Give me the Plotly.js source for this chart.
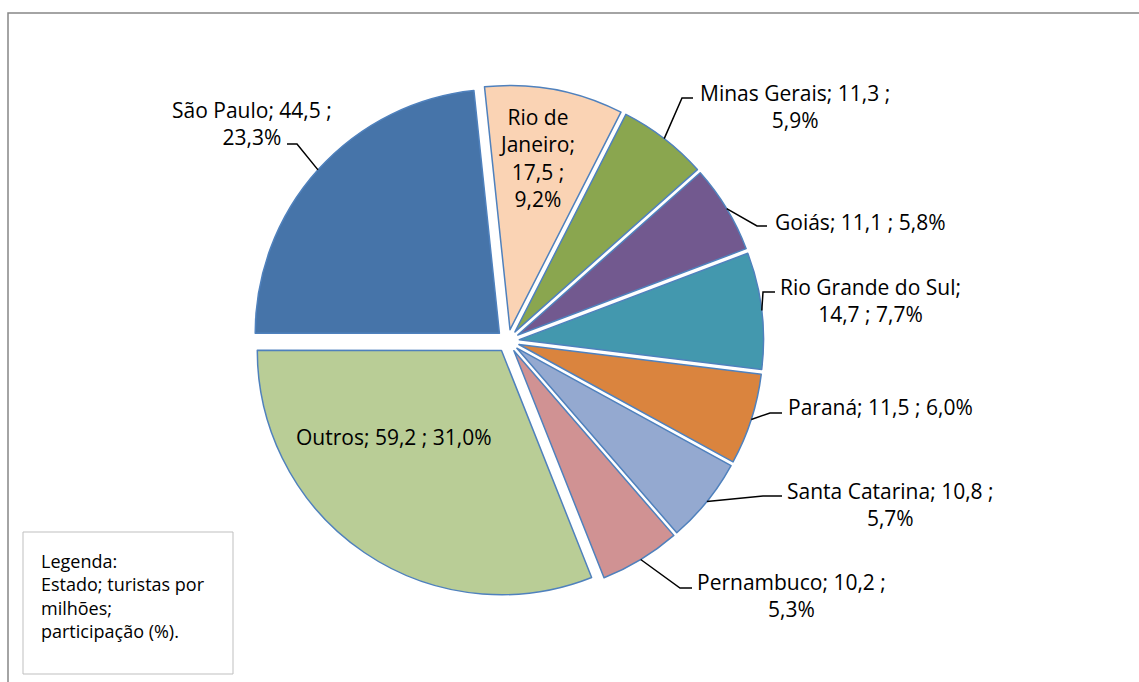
<!DOCTYPE html>
<html>
<head>
<meta charset="utf-8">
<script src="https://cdn.plot.ly/plotly-3.0.1.min.js"></script>
<style>html,body{margin:0;padding:0;background:#fff;overflow:hidden;}#chart{width:1139px;height:682px;}</style>
</head>
<body>
<div id="chart"></div>
<script>
// ---- data ----
const states = ['Rio de Janeiro','Minas Gerais','Goiás','Rio Grande do Sul','Paraná','Santa Catarina','Pernambuco','Outros','São Paulo'];
const tourists = [17.5, 11.3, 11.1, 14.7, 11.5, 10.8, 10.2, 59.2, 44.5];
const legendLines = ['Legenda:', 'Estado; turistas por', 'milhões;', 'participação (%).'];

// ---- styles / layout ----
const colors = ['#FAD3B4','#8AA64F','#72598F','#4398AE','#DA843E','#94A9D0','#D09293','#B9CD96','#4674A9'];
const W = 1139, H = 682;
const FONT = 'Open Sans, Liberation Sans, sans-serif';
const pullFrac = 0.047;
const rotation = -6;
const dom = {x: [0.1839, 0.7080], y: [0.1251, 0.8749]};
// label block centre (px), wrap mode, leader elbow & end (px)
const labelPos = [[537,158],[795,107],[860,222],[870,300],[880,407],[890,504],[791,595],[394,437],[252,123]];
const wrapMode = ['rio','pct','none','lbl','none','pct','pct','none','pct'];
const leader = [null,[[682,98],[693,98]],[[757,226],[767,226]],[[763,292],[775,292]],[[770,413],[782,413]],[[763,496],[782,496]],[[680,588],[692,588]],null,[[297,144],[287,144]]];

const total = tourists.reduce((a,b)=>a+b,0);
const fmt = v => v.toFixed(1).replace('.', ',');
function labelText(i){
  const name = states[i], val = fmt(tourists[i]), pct = fmt(tourists[i]/total*100) + '%';
  switch(wrapMode[i]){
    case 'rio': return name.replace(' Janeiro','<br>Janeiro') + ';<br>' + val + ' ;<br>' + pct;
    case 'pct': return name + '; ' + val + ' ;<br>' + pct;
    case 'lbl': return name + ';<br>' + val + ' ; ' + pct;
    default: return name + '; ' + val + ' ; ' + pct;
  }
}
const px = x => x / W, py = y => 1 - y / H;

// pie geometry as Plotly computes it
const boxH = (dom.y[1]-dom.y[0]) * H, boxW = (dom.x[1]-dom.x[0]) * W;
const r = Math.min(boxW, boxH) / (2 + 2*pullFrac);
const cx = (dom.x[0]+dom.x[1])/2 * W, cy = (1 - (dom.y[0]+dom.y[1])/2) * H;

const annotations = [], shapes = [];
let cum = 0;
for (let i = 0; i < states.length; i++) {
  const mid = (rotation + (cum + tourists[i]/2) / total * 360) * Math.PI/180;
  cum += tourists[i];
  const R = r * (1 + pullFrac);
  const ax = cx + R*Math.sin(mid), ay = cy - R*Math.cos(mid);
  annotations.push({
    xref:'paper', yref:'paper', x: px(labelPos[i][0]), y: py(labelPos[i][1]),
    xanchor:'center', yanchor:'middle', showarrow:false, align:'center',
    text: labelText(i), font:{family:FONT, size:21, color:'#000'}
  });
  if (leader[i]) {
    const e = leader[i][0], f = leader[i][1];
    shapes.push({type:'path', xref:'paper', yref:'paper',
      path:`M ${px(ax)},${py(ay)} L ${px(e[0])},${py(e[1])} L ${px(f[0])},${py(f[1])}`,
      line:{color:'#000', width:1.5}});
  }
}
// legend box
shapes.push({type:'rect', xref:'paper', yref:'paper', x0:px(23), x1:px(233), y0:py(674), y1:py(532), line:{color:'#BFBFBF', width:1}, fillcolor:'rgba(0,0,0,0)'});
annotations.push({xref:'paper', yref:'paper', x:px(39), y:py(547), xanchor:'left', yanchor:'top', showarrow:false, align:'left',
  text: legendLines.join('<br>'), font:{family:FONT, size:18, color:'#000'}});
// chart frame (left and top edges only; the rest lies outside the picture)
shapes.push({type:'path', xref:'paper', yref:'paper', path:`M ${px(8)},-0.05 L ${px(8)},${py(13)} L 1.05,${py(13)}`, line:{color:'#868686', width:1.5}, layer:'below'});

const trace = {
  type:'pie', labels: states, values: tourists, sort:false, direction:'clockwise', rotation: rotation,
  pull: states.map(()=>pullFrac), domain: dom,
  marker:{colors: colors, line:{color:'#4F81BD', width:1.5}},
  textinfo:'none', hoverinfo:'skip', showlegend:false
};
const layout = {
  width:W, height:H, margin:{l:0,r:0,t:0,b:0}, paper_bgcolor:'#fff', plot_bgcolor:'#fff',
  separators:',.', showlegend:false, annotations, shapes
};
Plotly.newPlot('chart', [trace], layout, {displayModeBar:false, staticPlot:true});
</script>
</body>
</html>
